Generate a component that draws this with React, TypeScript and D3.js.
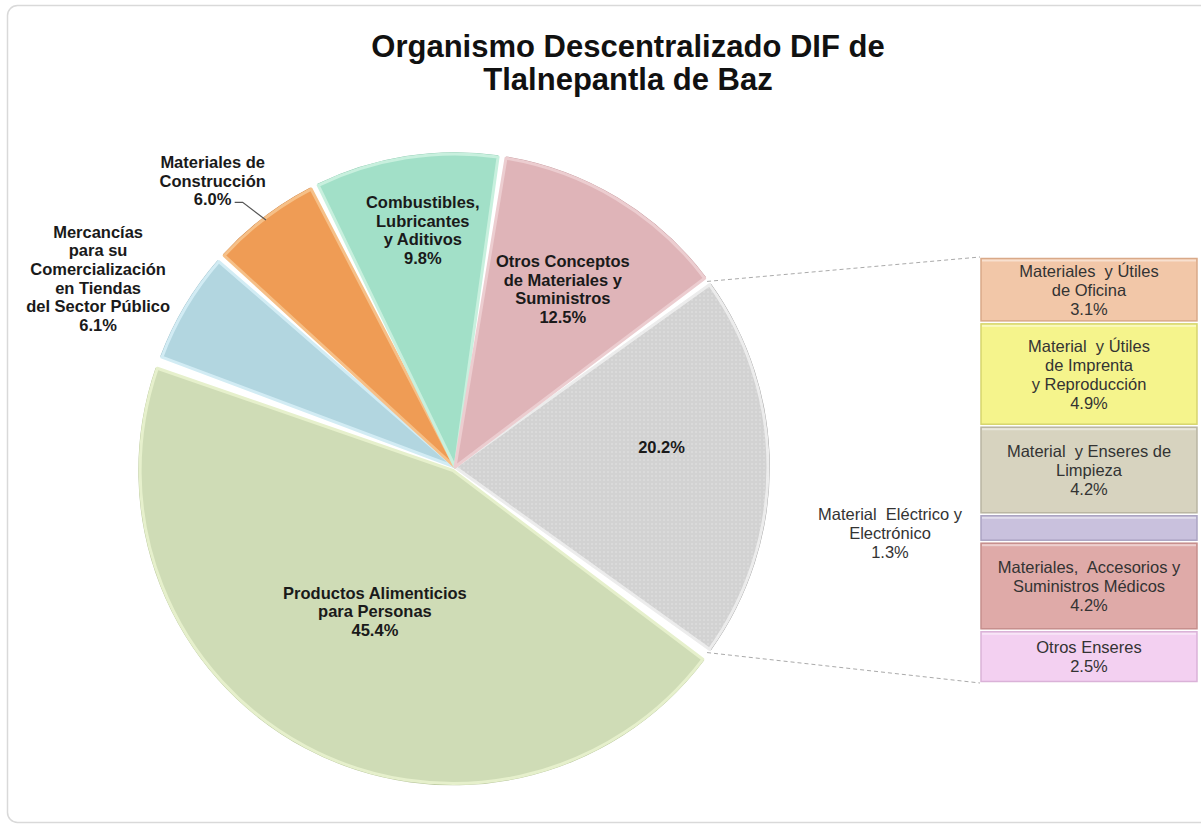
import React from "react";
import * as d3 from "d3";

// ---- data ----
const titleLines = ["Organismo Descentralizado DIF de", "Tlalnepantla de Baz"];

const mainCategories = [
  "Otros (desglose)",
  "Productos Alimenticios para Personas",
  "Mercancías para su Comercialización en Tiendas del Sector Público",
  "Materiales de Construcción",
  "Combustibles, Lubricantes y Aditivos",
  "Otros Conceptos de Materiales y Suministros",
];
const mainValues = [20.2, 45.4, 6.1, 6.0, 9.8, 12.5];
const mainLabelLines = [
  ["20.2%"],
  ["Productos Alimenticios", "para Personas", "45.4%"],
  ["Mercancías", "para su", "Comercialización", "en Tiendas", "del Sector Público", "6.1%"],
  ["Materiales de", "Construcción", "6.0%"],
  ["Combustibles,", "Lubricantes", "y Aditivos", "9.8%"],
  ["Otros Conceptos", "de Materiales y", "Suministros", "12.5%"],
];

const subCategories = [
  "Materiales y Útiles de Oficina",
  "Material y Útiles de Imprenta y Reproducción",
  "Material y Enseres de Limpieza",
  "Material Eléctrico y Electrónico",
  "Materiales, Accesorios y Suministros Médicos",
  "Otros Enseres",
];
const subValues = [3.1, 4.9, 4.2, 1.3, 4.2, 2.5];
const subLabelLines = [
  ["Materiales  y Útiles", "de Oficina", "3.1%"],
  ["Material  y Útiles", "de Imprenta", "y Reproducción", "4.9%"],
  ["Material  y Enseres de", "Limpieza", "4.2%"],
  ["Material  Eléctrico y", "Electrónico", "1.3%"],
  ["Materiales,  Accesorios y", "Suministros Médicos", "4.2%"],
  ["Otros Enseres", "2.5%"],
];

// ---- styles ----
const mainColors = ["#d3d3d3", "#cfdcb6", "#b2d6e0", "#ef9c55", "#a2e0c8", "#dfb4b8"];
const mainEdge = ["#ececec", "#e6f0cc", "#d2ecf4", "#f6c088", "#c8f0de", "#eccdd0"];
const mainShadow = ["#9a9a9a", "#b6c49a", "#98bcc8", "#c97c3c", "#86c4aa", "#c09498"];
const mainExplode = [0, 4, 0, 0, 0, 0];
const subColors = ["#f2c7a8", "#f5f48c", "#d7d3bf", "#c9c1dd", "#dfaaa8", "#f3d0f1"];
const subEdge = ["#d9a988", "#d6d56c", "#b9b5a2", "#aaa3c2", "#c68e8c", "#dab2d8"];

// label layout: radius factor and nudges
const labelLayout = [
  { rf: 0.66, dx: 0, dy: -20 },
  { rf: 0.53, dx: -2, dy: -2 },
  { rf: 1.29, dx: -10, dy: 18 },
  { rf: 1.2, dx: -14, dy: 12 },
  { rf: 0.76, dx: 5, dy: -2 },
  { rf: 0.66, dx: 1, dy: -1 },
];
const outsideIdx = 3; // leader line for "Materiales de Construcción"

export default function App() {
  const W = 1201;
  const H = 826;
  const cx = 455;
  const cy = 467;
  const R = 313;

  const total = d3.sum(mainValues);
  const otherSpan = (mainValues[0] / total) * Math.PI * 2;
  const start = Math.PI / 2 - otherSpan / 2;

  const pie = d3
    .pie<number>()
    .sort(null)
    .value((d) => d)
    .startAngle(start)
    .endAngle(start + Math.PI * 2);
  const arcs = pie(mainValues);

  const arc = d3.arc<any>().innerRadius(0).outerRadius(R).padAngle(8 / R).padRadius(R);
  const shadowArc = d3.arc<any>().innerRadius(R - 1).outerRadius(R + 1.8).padAngle(8 / (R + 1)).padRadius(R);

  const polar = (a: number, r: number) => [cx + r * Math.sin(a), cy - r * Math.cos(a)];

  // secondary bar
  const barX = 980;
  const barW = 218;
  const barTop = 257;
  const barBottom = 683;
  const subTotal = d3.sum(subValues);
  const y = d3.scaleLinear().domain([0, subTotal]).range([barTop, barBottom]);
  const cum = d3.cumsum(subValues);
  const segs = subValues.map((v, i) => ({ y0: y(cum[i] - v), y1: y(cum[i]), i }));

  const gA = polar(arcs[0].startAngle, R);
  const gB = polar(arcs[0].endAngle, R);

  const boldFont = "'Liberation Sans', Arial, sans-serif";

  return (
    <svg width={W} height={H} style={{ position: "absolute", left: 0, top: 0, background: "#fff" }}>
      <defs>
        <pattern id="dots" width="4" height="4" patternUnits="userSpaceOnUse">
          <rect width="4" height="4" fill="#d2d2d2" />
          <circle cx="1" cy="1" r="0.8" fill="#e6e6e6" />
        </pattern>
      </defs>
      <rect x={7.5} y={5.5} width={1205} height={817} rx={10} fill="#fff" stroke="#d9d9d9" strokeWidth={1.5} />

      {titleLines.map((t, i) => (
        <text
          key={i}
          x={628}
          y={46 + i * 33}
          textAnchor="middle"
          dominantBaseline="central"
          fontFamily={boldFont}
          fontWeight="bold"
          fontSize={31}
          fill="#111"
        >
          {t}
        </text>
      ))}

      {/* connectors */}
      <line x1={gA[0]} y1={gA[1]} x2={barX} y2={barTop} stroke="#aaa" strokeWidth={1} strokeDasharray="4,3" />
      <line x1={gB[0]} y1={gB[1]} x2={barX} y2={barBottom} stroke="#aaa" strokeWidth={1} strokeDasharray="4,3" />

      {/* main pie */}
      <g transform={`translate(${cx},${cy})`}>
        {arcs.map((a, i) => {
          const mid = (a.startAngle + a.endAngle) / 2;
          const ox = mainExplode[i] * Math.sin(mid);
          const oy = -mainExplode[i] * Math.cos(mid);
          return (
            <g key={i} transform={`translate(${ox},${oy})`}>
              <path d={shadowArc(a) as string} fill={mainShadow[i]} />
              <path
                d={arc(a) as string}
                fill={i === 0 ? "url(#dots)" : mainColors[i]}
                stroke={mainEdge[i]}
                strokeWidth={3}
                strokeLinejoin="round"
              >
                <title>{mainCategories[i]}</title>
              </path>
            </g>
          );
        })}
      </g>

      {/* main labels */}
      {arcs.map((a, i) => {
        const mid = (a.startAngle + a.endAngle) / 2;
        const p = polar(mid, R * labelLayout[i].rf);
        const x = p[0] + labelLayout[i].dx;
        const yc = p[1] + labelLayout[i].dy;
        const lines = mainLabelLines[i];
        const lh = 18.6;
        return (
          <g key={i}>
            {lines.map((l, j) => (
              <text
                key={j}
                x={x}
                y={yc + (j - (lines.length - 1) / 2) * lh}
                textAnchor="middle"
                dominantBaseline="central"
                fontFamily={boldFont}
                fontWeight="bold"
                fontSize={16.5}
                fill="#1a1a1a"
              >
                {l}
              </text>
            ))}
          </g>
        );
      })}

      {/* leader line for outside label */}
      {(() => {
        const a = arcs[outsideIdx];
        const mid = (a.startAngle + a.endAngle) / 2;
        const p0 = polar(mid, R - 2);
        const lp = polar(mid, R * labelLayout[outsideIdx].rf);
        const lx = lp[0] + labelLayout[outsideIdx].dx;
        const ly = lp[1] + labelLayout[outsideIdx].dy + 18.6;
        return (
          <polyline
            points={`${lx + 22},${ly + 3} ${lx + 30},${ly + 3} ${p0[0]},${p0[1]}`}
            fill="none"
            stroke="#555"
            strokeWidth={1.2}
          />
        );
      })()}

      {/* secondary bar */}
      {segs.map((s) => (
        <g key={s.i}>
          <rect
            x={barX + 1}
            y={s.y0 + 1.5}
            width={barW - 2}
            height={s.y1 - s.y0 - 3}
            fill={subColors[s.i]}
            stroke={subEdge[s.i]}
            strokeWidth={1.5}
          >
            <title>{subCategories[s.i]}</title>
          </rect>
          <rect x={barX + 2} y={s.y0 + 2.5} width={barW - 4} height={2} fill="#fff" opacity={0.45} />
        </g>
      ))}

      {segs.map((s) => {
        const lines = subLabelLines[s.i];
        const lh = 19;
        const outside = s.y1 - s.y0 < 40;
        const x = outside ? barX - 90 : barX + barW / 2;
        const yc = (s.y0 + s.y1) / 2 + (outside ? 5 : 0);
        return (
          <g key={s.i}>
            {lines.map((l, j) => (
              <text
                key={j}
                x={x}
                y={yc + (j - (lines.length - 1) / 2) * lh}
                textAnchor="middle"
                dominantBaseline="central"
                fontFamily={boldFont}
                fontSize={16.5}
                fill="#333"
                style={{ whiteSpace: "pre" }}
              >
                {l}
              </text>
            ))}
          </g>
        );
      })}
    </svg>
  );
}
